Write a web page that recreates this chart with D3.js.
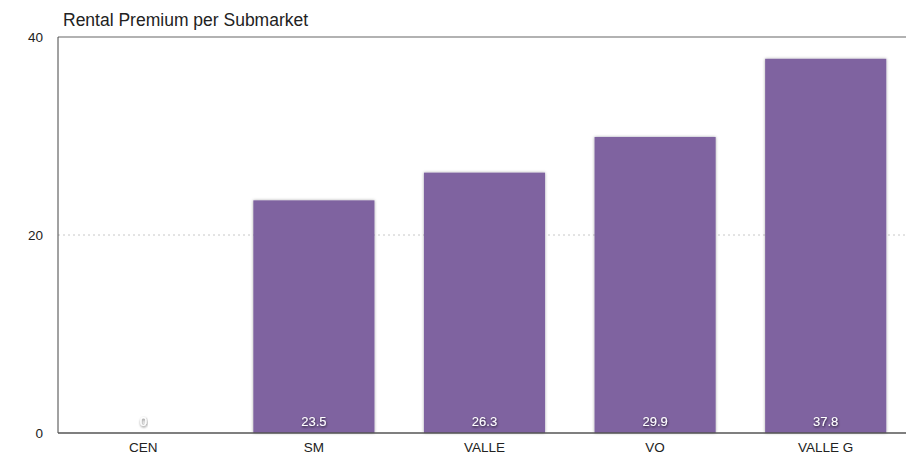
<!DOCTYPE html>
<html>
<head>
<meta charset="utf-8">
<script src="https://cdn.jsdelivr.net/npm/d3@7"></script>
<style>
  body { margin: 0; background: #fff; font-family: "Liberation Sans", Arial, sans-serif; }
  .grid line { stroke: #c8c8c8; stroke-dasharray: 2,3; }
  .val { fill: #fff; font-size: 13px; text-anchor: middle; }
</style>
</head>
<body>
<svg id="chart" width="906" height="455"></svg>
<script>
const categories = ["CEN", "SM", "VALLE", "VO", "VALLE G"];
const premium = [0, 23.5, 26.3, 29.9, 37.8];
const yTicks = [0, 20, 40];

const svg = d3.select("#chart");
const plotLeft = 58, plotTop = 37, plotBottom = 433, plotRight = 911;

// Shadow for bars and labels
const defs = svg.append("defs");
const f = defs.append("filter").attr("id", "shadow")
    .attr("x", "-10%").attr("y", "-10%").attr("width", "120%").attr("height", "120%");
f.append("feDropShadow").attr("dx", 0).attr("dy", 0).attr("stdDeviation", 1.5)
    .attr("flood-color", "#000").attr("flood-opacity", 0.35);
const tf = defs.append("filter").attr("id", "tshadow");
tf.append("feDropShadow").attr("dx", 0.5).attr("dy", 1.2).attr("stdDeviation", 1)
    .attr("flood-color", "#000").attr("flood-opacity", 0.75);

const x = d3.scaleBand().domain(categories).range([plotLeft, plotRight]).paddingInner(0.29).paddingOuter(0.145);
const y = d3.scaleLinear().domain([0, 40]).range([plotBottom, plotTop]);

svg.append("text")
    .attr("x", 63).attr("y", 26)
    .attr("font-size", 17.5).attr("fill", "#222")
    .text("Rental Premium per Submarket");

// dashed gridline at 20
svg.append("g").attr("class", "grid")
    .selectAll("line").data(yTicks.filter(d => d > 0 && d < 40))
    .join("line")
    .attr("x1", plotLeft).attr("x2", 906)
    .attr("y1", d => y(d)).attr("y2", d => y(d));

// y tick labels
svg.append("g").selectAll("text").data(yTicks).join("text")
    .attr("x", 43).attr("y", d => y(d) + 5)
    .attr("text-anchor", "end").attr("font-size", 13.5).attr("fill", "#222")
    .text(d => d);

// bars
svg.append("g").selectAll("rect").data(premium).join("rect")
    .attr("x", (d, i) => x(categories[i]))
    .attr("y", d => y(d))
    .attr("width", x.bandwidth())
    .attr("height", d => plotBottom - y(d))
    .attr("fill", "#7f63a0")
    .attr("filter", "url(#shadow)");

// value labels
svg.append("g").selectAll("text").data(premium).join("text")
    .attr("class", "val")
    .attr("x", (d, i) => x(categories[i]) + x.bandwidth() / 2)
    .attr("y", plotBottom - 7)
    .attr("fill", d => d === 0 ? "#e6e6e6" : "#fff")
    .attr("filter", "url(#tshadow)")
    .text(d => d);

// frame lines
svg.append("line").attr("x1", plotLeft).attr("x2", 906).attr("y1", plotTop).attr("y2", plotTop)
    .attr("stroke", "#666").attr("stroke-width", 1.2);
svg.append("line").attr("x1", plotLeft).attr("x2", plotLeft).attr("y1", plotTop).attr("y2", plotBottom)
    .attr("stroke", "#444").attr("stroke-width", 1);
svg.append("line").attr("x1", plotLeft).attr("x2", 906).attr("y1", plotBottom).attr("y2", plotBottom)
    .attr("stroke", "#555").attr("stroke-width", 1.5);

// x labels
svg.append("g").selectAll("text").data(categories).join("text")
    .attr("x", d => x(d) + x.bandwidth() / 2)
    .attr("y", 452)
    .attr("text-anchor", "middle").attr("font-size", 13.5).attr("fill", "#222")
    .text(d => d);
</script>
</body>
</html>
